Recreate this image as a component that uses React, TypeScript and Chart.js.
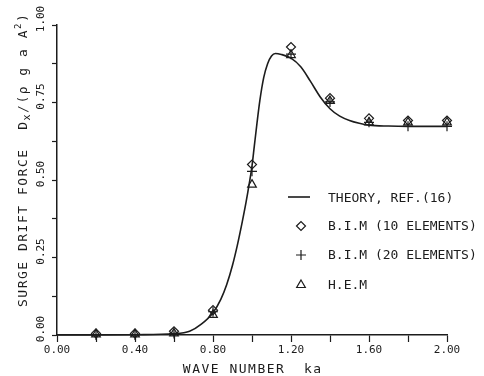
import React, { useEffect, useRef } from 'react';
import { Chart, registerables } from 'chart.js';

Chart.register(...registerables);

// ---- data ----
const theoryX = [0, 0.2, 0.4, 0.6, 0.68, 0.74, 0.8, 0.84, 0.87, 0.9, 0.925, 0.95, 0.97, 0.985, 1.0, 1.012, 1.025, 1.04, 1.06, 1.08, 1.1, 1.12, 1.15, 1.2, 1.25, 1.3, 1.35, 1.4, 1.45, 1.5, 1.55, 1.6, 1.7, 1.8, 2.0];
const theoryY = [0, 0, 0.001, 0.004, 0.012, 0.035, 0.072, 0.115, 0.162, 0.225, 0.29, 0.365, 0.43, 0.485, 0.545, 0.61, 0.68, 0.755, 0.83, 0.875, 0.9, 0.908, 0.905, 0.893, 0.865, 0.818, 0.768, 0.73, 0.706, 0.692, 0.683, 0.677, 0.674, 0.673, 0.673];

const waveNumbers = [0.2, 0.4, 0.6, 0.8, 1.0, 1.2, 1.4, 1.6, 1.8, 2.0];
const bim10Y = [0.005, 0.005, 0.012, 0.08, 0.55, 0.929, 0.764, 0.699, 0.692, 0.692];
const bim20Y = [0.0, 0.0, 0.005, 0.075, 0.528, 0.906, 0.752, 0.686, 0.673, 0.673];
const hemY = [0.002, 0.002, 0.005, 0.065, 0.485, 0.903, 0.755, 0.686, 0.686, 0.686];

const xTickLabels = ['0.00', '0.40', '0.80', '1.20', '1.60', '2.00'];
const yTickLabels = ['0.00', '0.25', '0.50', '0.75', '1.00'];

const seriesLabels = ['THEORY, REF.(16)', 'B.I.M (10 ELEMENTS)', 'B.I.M (20 ELEMENTS)', 'H.E.M'];
const xTitle = 'WAVE NUMBER  ka';

const INK = '#1c1c1c';
const MONO = '"DejaVu Sans Mono", "DejaVu Sans", monospace';

function drawMarker(ctx: CanvasRenderingContext2D, style: string, x: number, y: number, r: number) {
  ctx.beginPath();
  if (style === 'rectRot') {
    ctx.moveTo(x - r, y);
    ctx.lineTo(x, y - r);
    ctx.lineTo(x + r, y);
    ctx.lineTo(x, y + r);
    ctx.closePath();
  } else if (style === 'cross') {
    ctx.moveTo(x - r, y);
    ctx.lineTo(x + r, y);
    ctx.moveTo(x, y - r);
    ctx.lineTo(x, y + r);
  } else if (style === 'triangle') {
    const a = r * Math.sqrt(3) / 2;
    ctx.moveTo(x, y - r);
    ctx.lineTo(x + a, y + r / 2);
    ctx.lineTo(x - a, y + r / 2);
    ctx.closePath();
  }
  ctx.stroke();
}

const overlay = {
  id: 'overlay',
  afterDraw(chart: any) {
    const ctx: CanvasRenderingContext2D = chart.ctx;
    const xs = chart.scales.x;
    const ys = chart.scales.y;
    ctx.save();
    ctx.fillStyle = INK;
    ctx.strokeStyle = INK;

    // rotated y tick labels
    ctx.font = `11px ${MONO}`;
    ctx.textAlign = 'center';
    ctx.textBaseline = 'middle';
    ys.ticks.forEach((t: any) => {
      const s = Number(t.value).toFixed(2);
      if (!yTickLabels.includes(s)) return;
      const py = ys.getPixelForValue(t.value) - 6;
      ctx.save();
      ctx.translate(ys.right - 15.5, py);
      ctx.rotate(-Math.PI / 2);
      ctx.fillText(s, 0, 0);
      ctx.restore();
    });

    // y axis title (rotated, with sub/superscripts)
    const parts = [
      { t: 'SURGE DRIFT FORCE  D', s: 13, dy: 0 },
      { t: 'x', s: 10, dy: 3 },
      { t: '/(\u03C1 g a A', s: 13, dy: 0 },
      { t: '2', s: 9, dy: -6 },
      { t: ')', s: 13, dy: 0 },
    ];
    ctx.save();
    ctx.translate(26.5, 307);
    ctx.rotate(-Math.PI / 2);
    ctx.textAlign = 'left';
    ctx.textBaseline = 'alphabetic';
    (ctx as any).letterSpacing = '1.5px';
    let cx = 0;
    parts.forEach((p) => {
      ctx.font = `${p.s}px ${MONO}`;
      ctx.fillText(p.t, cx, p.dy);
      cx += ctx.measureText(p.t).width;
    });
    ctx.restore();

    // x axis title
    ctx.save();
    ctx.font = `13px ${MONO}`;
    (ctx as any).letterSpacing = '1.5px';
    ctx.textAlign = 'center';
    ctx.textBaseline = 'alphabetic';
    ctx.fillText(xTitle, (xs.left + xs.right) / 2 + 0.75, 373);
    ctx.restore();

    // legend
    const rows = [199, 227, 256, 286];
    ctx.font = `13px ${MONO}`;
    ctx.textAlign = 'left';
    ctx.textBaseline = 'middle';
    chart.data.datasets.forEach((ds: any, i: number) => {
      const y = rows[i];
      ctx.lineWidth = ds.borderWidth || 1.2;
      if (ds.showLine) {
        ctx.beginPath();
        ctx.moveTo(288, y - 2);
        ctx.lineTo(310, y - 2);
        ctx.stroke();
      } else {
        ctx.lineWidth = 1.2;
        drawMarker(ctx, ds.pointStyle, 301, y - 1, ds.pointRadius);
      }
      ctx.fillText(ds.label, 328, y);
    });
    ctx.restore();
  },
};

export default function App() {
  const ref = useRef<HTMLCanvasElement | null>(null);

  useEffect(() => {
    document.body.style.margin = '0';
    const canvas = ref.current;
    if (!canvas) return;

    const markerDs = (label: string, ys: number[], style: string, r: number) => ({
      label,
      data: waveNumbers.map((x, i) => ({ x, y: ys[i] })),
      showLine: false,
      pointStyle: style,
      pointRadius: r,
      pointBorderWidth: 1.2,
      pointBorderColor: INK,
      pointBackgroundColor: 'rgba(0,0,0,0)',
      borderColor: INK,
      clip: false as any,
    });

    const chart = new Chart(canvas, {
      type: 'scatter',
      data: {
        datasets: [
          {
            label: seriesLabels[0],
            data: theoryX.map((x, i) => ({ x, y: theoryY[i] })),
            showLine: true,
            borderColor: INK,
            borderWidth: 1.6,
            pointRadius: 0,
            cubicInterpolationMode: 'monotone',
            clip: false as any,
          } as any,
          markerDs(seriesLabels[1], bim10Y, 'rectRot', 4.5),
          markerDs(seriesLabels[2], bim20Y, 'cross', 5),
          markerDs(seriesLabels[3], hemY, 'triangle', 5),
        ],
      },
      options: {
        animation: false,
        responsive: false,
        maintainAspectRatio: false,
        layout: { padding: { left: 0, top: 25, right: 37, bottom: 0 } },
        plugins: {
          legend: { display: false },
          tooltip: { enabled: false },
          title: { display: false },
        },
        scales: {
          x: {
            type: 'linear',
            min: 0,
            max: 2,
            afterFit: (s: any) => { s.height = 41; },
            border: { display: true, color: INK, width: 1.5 },
            grid: { display: true, drawOnChartArea: false, drawTicks: true, tickLength: 7, tickColor: INK, tickWidth: 1.2 },
            ticks: {
              stepSize: 0.2,
              autoSkip: false,
              maxRotation: 0,
              minRotation: 0,
              padding: 2,
              color: INK,
              font: { family: MONO, size: 11 },
              callback: (v: any) => {
                const s = Number(v).toFixed(2);
                return xTickLabels.includes(s) ? s : '';
              },
            },
          },
          y: {
            type: 'linear',
            min: 0,
            max: 1,
            afterFit: (s: any) => { s.width = 57; },
            border: { display: true, color: INK, width: 1.5 },
            grid: { display: true, drawOnChartArea: false, drawTicks: true, tickLength: 5, tickColor: INK, tickWidth: 1.2 },
            ticks: {
              stepSize: 0.125,
              autoSkip: false,
              display: false,
            },
          },
        },
      },
      plugins: [overlay],
    });

    return () => chart.destroy();
  }, []);

  return (
    <div style={{ width: 484, height: 376, background: '#fff' }}>
      <canvas ref={ref} width={484} height={376} style={{ display: 'block', width: 484, height: 376 }} />
    </div>
  );
}
